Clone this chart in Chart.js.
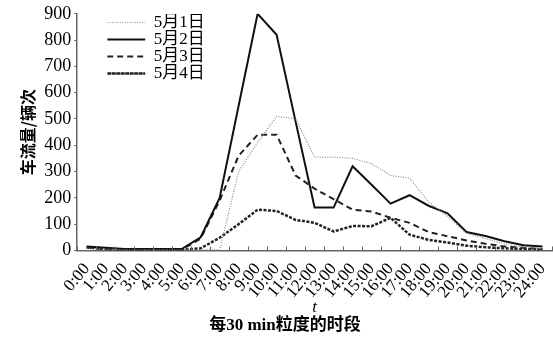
<!DOCTYPE html>
<html>
<head>
<meta charset="utf-8">
<script src="https://cdn.jsdelivr.net/npm/chart.js@4"></script>
<style>
  html, body { margin: 0; padding: 0; background: #fff; }
  #wrap { width: 553px; height: 340px; }
</style>
</head>
<body>
<div id="wrap"><canvas id="chart"></canvas></div>
<script>
// Часове по оста X (всеки 30 min интервал е една точка)
const timeLabels = ['0:00','1:00','2:00','3:00','4:00','5:00','6:00','7:00','8:00','9:00','10:00','11:00','12:00',
                    '13:00','14:00','15:00','16:00','17:00','18:00','19:00','20:00','21:00','22:00','23:00','24:00'];
const seriesNames = ['5月1日', '5月2日', '5月3日', '5月4日'];

// Стойности, отчетени от картинката
const may1 = [8, 5, 3, 2, 2, 2, 2, 2, 300, 410, 510, 500, 355, 355, 350, 330, 285, 275, 185, 130, 65, 45, 25, 12, 8];
const may2 = [15, 10, 5, 5, 5, 5, 50, 200, 550, 900, 820, 490, 163, 163, 320, 250, 178, 210, 170, 141, 70, 55, 35, 20, 15];
const may3 = [10, 5, 3, 3, 3, 3, 45, 190, 360, 440, 440, 285, 235, 195, 155, 148, 124, 105, 70, 54, 38, 25, 15, 10, 5];
const may4 = [12, 5, 2, 2, 2, 2, 8, 48, 100, 155, 150, 116, 105, 72, 93, 92, 124, 60, 40, 30, 18, 12, 8, 5, 3];

const serif = "'Liberation Serif', 'Times New Roman', 'Noto Sans CJK SC', serif";
const axisColor = '#666';

// Малки чертички навътре по оста X и преместване на легендата
const extras = {
    id: 'extras',
    afterLayout(chart) {
        const lg = chart.legend;
        lg.left += 30;
        lg.right += 30;
        lg.top += 14;
        lg.bottom += 14;
    },
    afterDraw(chart) {
        const x = chart.scales.x;
        const ctx = chart.ctx;
        const step = x.getPixelForValue(1) - x.getPixelForValue(0);
        const start = x.getPixelForValue(0) - step / 2;
        ctx.save();
        ctx.strokeStyle = axisColor;
        ctx.lineWidth = 1;
        ctx.beginPath();
        for (let i = 0; i <= timeLabels.length; i++) {
            const px = Math.round(start + i * step) + 0.5;
            ctx.moveTo(px, x.top);
            ctx.lineTo(px, x.top - 4);
        }
        ctx.stroke();
        ctx.restore();
    }
};

function makeSet(label, data, color, width, dash) {
    return {
        label: label,
        data: data,
        borderColor: color,
        backgroundColor: color,
        borderWidth: width,
        borderDash: dash,
        pointRadius: 0,
        tension: 0,
        fill: false
    };
}

new Chart(document.getElementById('chart'), {
    type: 'line',
    data: {
        labels: timeLabels,
        datasets: [
            makeSet(seriesNames[0], may1, '#888', 1.2, [1, 1.5]),
            makeSet(seriesNames[1], may2, '#111', 2, []),
            makeSet(seriesNames[2], may3, '#222', 2, [6, 4]),
            makeSet(seriesNames[3], may4, '#222', 2.5, [3, 1.5])
        ]
    },
    options: {
        responsive: true,
        maintainAspectRatio: false,
        animation: false,
        layout: { padding: { left: 18, right: 1, top: 10, bottom: 4 } },
        scales: {
            x: {
                offset: true,
                // махаме допълнителното място вдясно, което Chart.js оставя за завъртените надписи
                afterFit(scale) { scale.paddingRight = 0; },
                grid: { display: false },
                border: { display: true, color: axisColor, width: 1.5 },
                ticks: {
                    autoSkip: false,
                    minRotation: 50,
                    maxRotation: 50,
                    color: '#000',
                    padding: 1,
                    font: { family: serif, size: 17 }
                },
                title: {
                    display: true,
                    text: 't',
                    color: '#000',
                    padding: { top: -6, bottom: -2 },
                    font: { family: serif, size: 17, style: 'italic' }
                }
            },
            y: {
                min: 0,
                max: 900,
                grid: { drawOnChartArea: false, tickLength: 3, color: axisColor },
                border: { display: true, color: axisColor, width: 1.5 },
                ticks: {
                    stepSize: 100,
                    color: '#000',
                    padding: 3,
                    font: { family: serif, size: 18 }
                },
                title: {
                    display: true,
                    text: '车流量/辆次',
                    color: '#000',
                    padding: { top: 0, bottom: 4 },
                    font: { family: "'Noto Sans CJK SC', sans-serif", size: 16, weight: 'bold' }
                }
            }
        },
        plugins: {
            legend: {
                position: 'chartArea',
                align: 'start',
                labels: {
                    boxWidth: 38,
                    boxHeight: 0,
                    padding: 0,
                    color: '#000',
                    font: { family: serif, size: 17 }
                }
            },
            title: {
                display: true,
                position: 'bottom',
                text: '每30 min粒度的时段',
                color: '#000',
                padding: { top: 0, bottom: 0 },
                font: { family: "'Liberation Serif', 'Noto Sans CJK SC', serif", size: 17, weight: 'bold' }
            },
            tooltip: { enabled: false }
        }
    },
    plugins: [extras]
});
</script>
</body>
</html>
